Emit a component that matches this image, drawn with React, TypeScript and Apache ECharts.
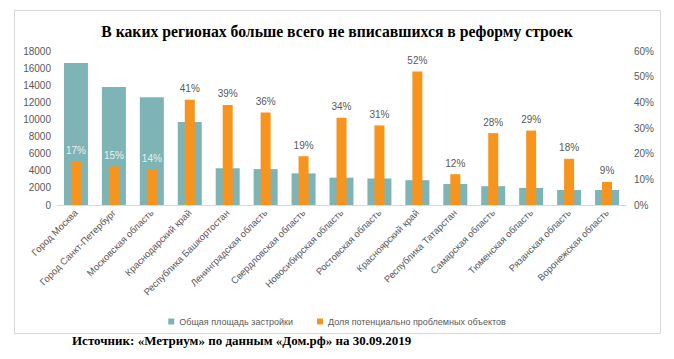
import React, { useEffect, useRef } from "react";
import * as echarts from "echarts";

const categories = [
  "Город Москва",
  "Город Санкт-Петербург",
  "Московская область",
  "Краснодарский край",
  "Республика Башкортостан",
  "Ленинградская область",
  "Свердловская область",
  "Новосибирская область",
  "Ростовская область",
  "Красноярский край",
  "Республика Татарстан",
  "Самарская область",
  "Тюменская область",
  "Рязанская область",
  "Воронежская область",
];

const totalArea = [16600, 13800, 12600, 9700, 4300, 4200, 3700, 3200, 3100, 2900, 2450, 2200, 2000, 1750, 1750];
const problemShare = [17, 15, 14, 41, 39, 36, 19, 34, 31, 52, 12, 28, 29, 18, 9];

const seriesNames = ["Общая площадь застройки", "Доля потенциально проблемных объектов"];
const titleText = "В каких регионах больше всего не вписавшихся в реформу строек";
const sourceText = "Источник: «Метриум» по данным «Дом.рф» на 30.09.2019";

const TEAL = "#7fb4b6";
const ORANGE = "#f7941d";
const GRAY = "#595959";
const FONT = "'Liberation Sans', Arial, sans-serif";
const SERIF = "'Liberation Serif', 'Times New Roman', serif";

export default function App() {
  const ref = useRef<HTMLDivElement>(null);
  useEffect(() => {
    if (!ref.current) return;
    const chart = echarts.init(ref.current, undefined, { renderer: "svg" });
    chart.setOption({
      animation: false,
      backgroundColor: "#ffffff",
      title: {
        text: titleText,
        left: "center",
        top: 18,
        textStyle: { fontFamily: SERIF, fontWeight: "bold", fontSize: 15.7, color: "#000" },
      },
      graphic: [
        {
          type: "rect",
          shape: { x: 14.5, y: 10.5, width: 646, height: 323 },
          style: { fill: "none", stroke: "#d9d9d9", lineWidth: 1 },
          z: -1,
        },
        {
          type: "text",
          left: 72,
          top: 334,
          style: {
            text: sourceText,
            fontFamily: SERIF,
            fontWeight: "bold",
            fontSize: 13,
            fill: "#000",
          },
        },
      ],
      legend: {
        top: 312,
        left: "center",
        itemWidth: 6,
        itemHeight: 6,
        itemGap: 24,
        icon: "rect",
        textStyle: { color: GRAY, fontSize: 9, fontFamily: FONT },
        data: seriesNames,
      },
      grid: { left: 57, right: 48, top: 51, bottom: 154 },
      xAxis: [
        {
          type: "category",
          data: categories,
          axisLine: { lineStyle: { color: "#d9d9d9" } },
          axisTick: { show: false },
          axisLabel: {
            rotate: 45,
            interval: 0,
            color: GRAY,
            fontSize: 9.5,
            fontFamily: FONT,
            margin: 6,
          },
        },
        {
          type: "category",
          data: categories,
          show: false,
        },
      ],
      yAxis: [
        {
          type: "value",
          min: 0,
          max: 18000,
          interval: 2000,
          splitLine: { show: false },
          axisLine: { show: false },
          axisTick: { show: false },
          axisLabel: {
            color: GRAY,
            fontSize: 10,
            fontFamily: FONT,
            margin: 6,
            formatter: (v: number) => String(v),
          },
        },
        {
          type: "value",
          min: 0,
          max: 60,
          interval: 10,
          splitLine: { show: false },
          axisLine: { show: false },
          axisTick: { show: false },
          axisLabel: { color: GRAY, fontSize: 10, fontFamily: FONT, formatter: "{value}%", margin: 8 },
        },
      ],
      series: [
        {
          name: seriesNames[0],
          type: "bar",
          xAxisIndex: 0,
          yAxisIndex: 0,
          barWidth: 24,
          data: totalArea,
          itemStyle: { color: TEAL },
          z: 1,
        },
        {
          name: seriesNames[1],
          type: "bar",
          xAxisIndex: 1,
          yAxisIndex: 1,
          barWidth: 10,
          itemStyle: { color: ORANGE },
          z: 2,
          data: problemShare.map((v, i) => ({
            value: v,
            label: i < 3 ? { color: "#e6eeee" } : undefined,
          })),
          label: {
            show: true,
            position: "top",
            distance: 6,
            formatter: "{c}%",
            color: GRAY,
            fontSize: 10,
            fontFamily: FONT,
          },
        },
      ],
    });
    return () => chart.dispose();
  }, []);
  return (
    <div
      ref={ref}
      style={{ position: "fixed", left: 0, top: 0, width: 674, height: 359 }}
    />
  );
}
